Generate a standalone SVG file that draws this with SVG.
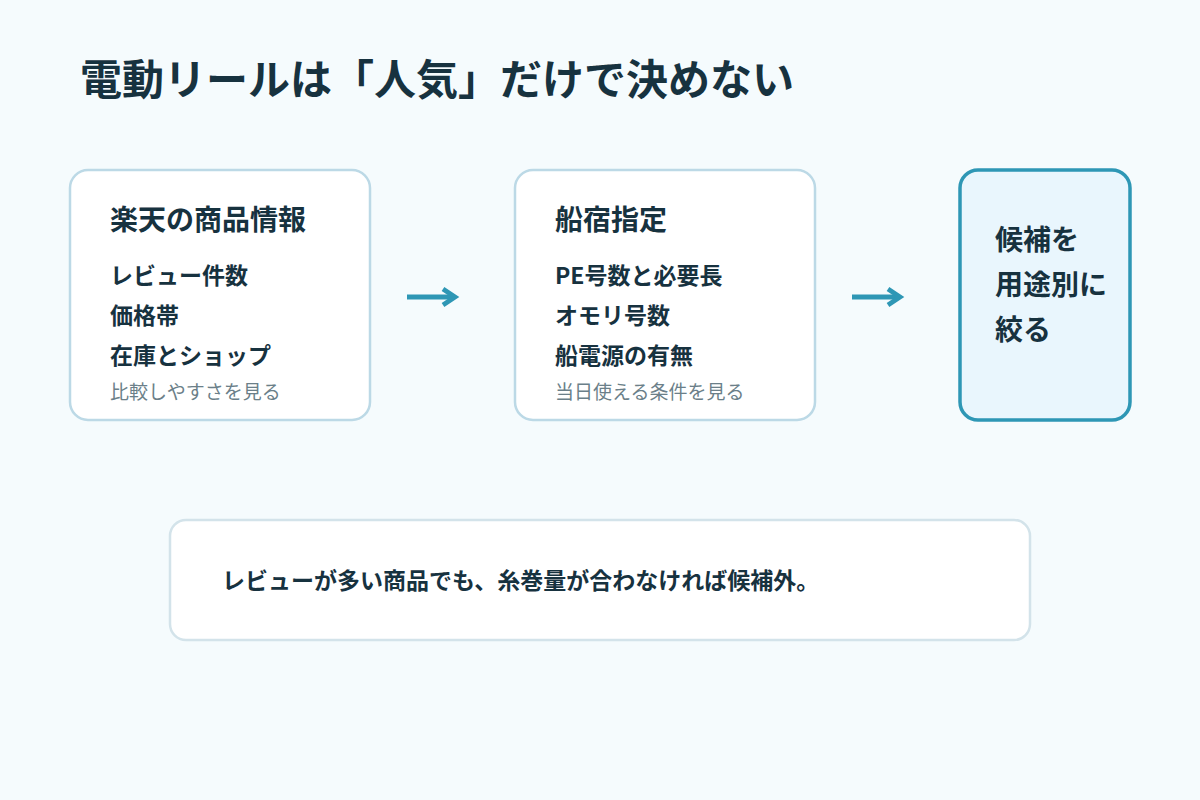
<svg xmlns="http://www.w3.org/2000/svg" width="1200" height="800" viewBox="0 0 1200 800">
<defs>
<style>
text{font-family:"Noto Sans CJK JP","Noto Sans",sans-serif;fill:#17323f;}
.title{font-size:42px;font-weight:700;}
.h{font-size:28px;font-weight:700;}
.it{font-size:23px;font-weight:700;}
.note{font-size:19px;fill:#6b7f89;}
.card{fill:#ffffff;stroke:#bcd9e6;stroke-width:2.5;}
.hl{fill:#e9f6fd;stroke:#2e97b5;stroke-width:3.5;}
.memo{fill:#ffffff;stroke:#d3e3ea;stroke-width:2.5;}
.arr{stroke:#2e97b5;stroke-width:5;fill:none;}
</style>
<marker id="ah" viewBox="0 0 10 10" refX="6" refY="5" markerWidth="4" markerHeight="4" orient="auto" markerUnits="strokeWidth">
<path d="M1,1 L7,5 L1,9" fill="none" stroke="#2e97b5" stroke-width="2.4"/>
</marker>
</defs>
<rect width="1200" height="800" fill="#f5fbfd"/>
<text class="title" x="80" y="95">電動リールは「人気」だけで決めない</text>
<g id="node-rakuten">
<rect class="card" x="70" y="170" width="300" height="250" rx="18"/>
<text class="h" x="110" y="230">楽天の商品情報</text>
<text class="it" x="110" y="284">レビュー件数</text>
<text class="it" x="110" y="324">価格帯</text>
<text class="it" x="110" y="364">在庫とショップ</text>
<text class="note" x="110" y="399">比較しやすさを見る</text>
</g>
<g id="node-funayado">
<rect class="card" x="515" y="170" width="300" height="250" rx="18"/>
<text class="h" x="555" y="230">船宿指定</text>
<text class="it" x="555" y="284">PE号数と必要長</text>
<text class="it" x="555" y="324">オモリ号数</text>
<text class="it" x="555" y="364">船電源の有無</text>
<text class="note" x="555" y="399">当日使える条件を見る</text>
</g>
<g id="node-result">
<rect class="hl" x="960" y="170" width="170" height="250" rx="18"/>
<text class="h" x="995" y="250">候補を</text>
<text class="h" x="995" y="295">用途別に</text>
<text class="h" x="995" y="340">絞る</text>
</g>
<g id="connectors">
<path class="arr" d="M407,297 H453" marker-end="url(#ah)"/>
<path class="arr" d="M852,297 H898" marker-end="url(#ah)"/>
</g>
<g id="node-memo">
<rect class="memo" x="170" y="520" width="860" height="120" rx="16"/>
<text class="it" x="222" y="589">レビューが多い商品でも、糸巻量が合わなければ候補外。</text>
</g>
</svg>
